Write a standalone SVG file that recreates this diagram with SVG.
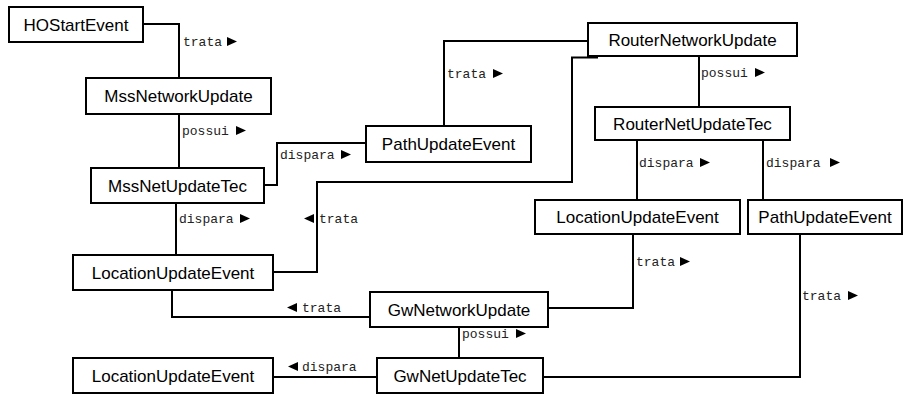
<svg xmlns="http://www.w3.org/2000/svg" width="903" height="394" viewBox="0 0 903 394">
<style>
.box{fill:#fff;stroke:#000;stroke-width:2}
.nt{font-family:"Liberation Sans",Arial,sans-serif;font-size:17px;fill:#000;text-anchor:middle}
.ln{fill:none;stroke:#000;stroke-width:2}
.lb{font-family:"Liberation Mono","Courier New",monospace;font-size:13px;fill:#222}
.ah{fill:#000}
</style>
<defs>
<polygon id="ar" class="ah" points="0,-9 10,-4.5 0,0"/>
<polygon id="al" class="ah" points="10,-9 0,-4.5 10,0"/>
</defs>
<rect width="903" height="394" fill="#fff"/>
<g id="connectors">
<path class="ln" d="M143 24H179V78"/>
<path class="ln" d="M179 114V168"/>
<path class="ln" d="M176 203V255"/>
<path class="ln" d="M264 185H277V143H366"/>
<path class="ln" d="M444 126V41H588"/>
<path class="ln" d="M598 57.5H572V182H317V272H273"/>
<path class="ln" d="M699 56V107"/>
<path class="ln" d="M637 140V200"/>
<path class="ln" d="M763 140V200"/>
<path class="ln" d="M633 234V308H548"/>
<path class="ln" d="M800 234V377H543"/>
<path class="ln" d="M172 290V317H370"/>
<path class="ln" d="M459 327V358"/>
<path class="ln" d="M273 377H377"/>
<text class="lb" x="183" y="46">trata</text><use href="#ar" x="227" y="46"/>
<text class="lb" x="182" y="135">possui</text><use href="#ar" x="236" y="135"/>
<text class="lb" x="179" y="223">dispara</text><use href="#ar" x="240" y="223"/>
<text class="lb" x="280" y="159">dispara</text><use href="#ar" x="341" y="159"/>
<text class="lb" x="447" y="78">trata</text><use href="#ar" x="493" y="78"/>
<use href="#al" x="304" y="223"/><text class="lb" x="319" y="223">trata</text>
<text class="lb" x="701" y="77">possui</text><use href="#ar" x="755" y="77"/>
<text class="lb" x="639" y="167">dispara</text><use href="#ar" x="700" y="167"/>
<text class="lb" x="766" y="167">dispara</text><use href="#ar" x="830" y="167"/>
<text class="lb" x="636" y="266">trata</text><use href="#ar" x="680" y="266"/>
<text class="lb" x="802" y="300">trata</text><use href="#ar" x="848" y="300"/>
<text class="lb" x="462" y="338">possui</text><use href="#ar" x="516" y="338"/>
<use href="#al" x="287" y="312"/><text class="lb" x="302" y="312">trata</text>
<use href="#al" x="288" y="371"/><text class="lb" x="302" y="371">dispara</text>
</g>
<g id="HOStartEvent"><rect class="box" x="9" y="7" width="134" height="35"/><text class="nt" x="76" y="30.5">HOStartEvent</text></g>
<g id="MssNetworkUpdate"><rect class="box" x="86" y="78" width="185" height="36"/><text class="nt" x="178.5" y="102">MssNetworkUpdate</text></g>
<g id="MssNetUpdateTec"><rect class="box" x="91" y="168" width="173" height="35"/><text class="nt" x="177.5" y="191.5">MssNetUpdateTec</text></g>
<g id="LocationUpdateEvent1"><rect class="box" x="73" y="255" width="200" height="35"/><text class="nt" x="173" y="278.5">LocationUpdateEvent</text></g>
<g id="PathUpdateEvent1"><rect class="box" x="366" y="126" width="165" height="36"/><text class="nt" x="448.5" y="150">PathUpdateEvent</text></g>
<g id="RouterNetworkUpdate"><rect class="box" x="588" y="23" width="209" height="33"/><text class="nt" x="692.5" y="45.5">RouterNetworkUpdate</text></g>
<g id="RouterNetUpdateTec"><rect class="box" x="595" y="107" width="195" height="33"/><text class="nt" x="692.5" y="129.5">RouterNetUpdateTec</text></g>
<g id="LocationUpdateEvent2"><rect class="box" x="535" y="200" width="205" height="34"/><text class="nt" x="637.5" y="223">LocationUpdateEvent</text></g>
<g id="PathUpdateEvent2"><rect class="box" x="748" y="200" width="154" height="34"/><text class="nt" x="825" y="223">PathUpdateEvent</text></g>
<g id="GwNetworkUpdate"><rect class="box" x="370" y="292" width="178" height="35"/><text class="nt" x="459" y="315.5">GwNetworkUpdate</text></g>
<g id="GwNetUpdateTec"><rect class="box" x="377" y="358" width="166" height="35"/><text class="nt" x="460" y="381.5">GwNetUpdateTec</text></g>
<g id="LocationUpdateEvent3"><rect class="box" x="73" y="358" width="200" height="35"/><text class="nt" x="173" y="381.5">LocationUpdateEvent</text></g>
</svg>
